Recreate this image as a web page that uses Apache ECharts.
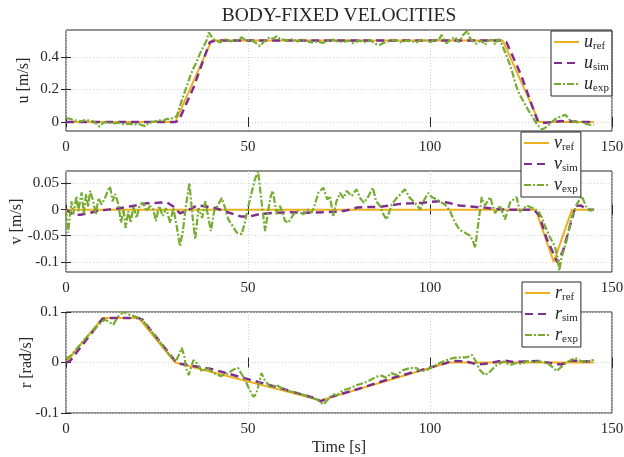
<!DOCTYPE html>
<html>
<head>
<meta charset="utf-8">
<script src="https://cdn.jsdelivr.net/npm/echarts@6/dist/echarts.min.js"></script>
<style>
  html, body { margin: 0; padding: 0; background: #fff; }
  #chart { width: 624px; height: 457px; }
</style>
</head>
<body>
<div id="chart"></div>
<script>
// ---- surge velocity u [m/s] ----
const uRefT = [0, 30, 40, 120, 130, 145];
const uRefV = [0, 0, 0.5, 0.5, 0, 0];
const uSimT = [0, 10, 20, 30, 31, 35, 39.5, 41, 50, 60, 70, 80, 90, 100, 110, 120, 121, 125, 129.5, 131, 133, 136, 139, 142, 145];
const uSimV = [0, 0, 0, 0, 0.01, 0.21, 0.49, 0.5, 0.5, 0.5, 0.5, 0.5, 0.5, 0.5, 0.5, 0.5, 0.49, 0.29, 0.01, -0.006, -0.002, 0.006, 0.004, 0.001, 0];
const uExpT = [0, 1, 2, 3, 3.8, 5, 5.7, 6.5, 7.5, 8.3, 9.2, 10, 10.7, 12, 13, 14.5, 15.8, 17, 18.5, 20, 21.7, 22.5, 23.5, 24.5, 25.8, 26.8, 27.7, 28.5, 29.5, 30.4, 31.2, 32.2, 33.2, 34.1, 35, 35.9, 36.8, 37.7, 38.6, 39.2, 39.8, 40.5, 41.3, 42.3, 43.2, 44.2, 45, 46, 47, 48.3, 49.4, 50.5, 51.5, 52.5, 53.3, 54.2, 55, 56, 57, 57.9, 58.8, 59.7, 61, 62.4, 63.5, 65, 66.1, 67, 67.9, 69, 70.6, 72, 73.3, 74.5, 76.1, 77.5, 78.8, 80, 80.6, 82, 83.5, 85, 86.3, 87.2, 88.1, 89.5, 90.8, 92, 93.6, 95, 96.3, 97.5, 99.1, 100.2, 101.4, 102.3, 103.2, 104, 104.6, 105.3, 106, 107, 107.8, 108.5, 109.1, 110.3, 110.9, 111.5, 112.2, 112.8, 113.8, 114.5, 115.1, 116, 116.5, 117.2, 117.9, 118.8, 119.7, 120.6, 121.3, 122, 122.7, 123.3, 124, 124.7, 125.6, 126.5, 127.2, 127.9, 128.6, 129.3, 130, 130.7, 131.3, 132, 132.7, 133.4, 134.1, 134.8, 135.5, 136.2, 137.1, 137.8, 138.5, 139.4, 140.3, 141.2, 142.1, 142.8, 143.5, 144.4, 145];
const uExpV = [0.025, 0.02, 0.012, 0.008, 0.003, 0.01, 0.014, 0.006, 0.005, -0.01, -0.028, -0.01, 0, -0.005, -0.009, -0.004, -0.014, -0.01, -0.015, -0.012, -0.025, -0.01, 0, 0.005, 0.01, 0.008, 0.02, 0.015, 0.028, 0.035, 0.09, 0.16, 0.22, 0.28, 0.33, 0.37, 0.42, 0.46, 0.5, 0.55, 0.53, 0.51, 0.5, 0.488, 0.5, 0.512, 0.495, 0.5, 0.505, 0.52, 0.5, 0.506, 0.495, 0.48, 0.465, 0.49, 0.505, 0.52, 0.51, 0.528, 0.51, 0.506, 0.5, 0.51, 0.495, 0.505, 0.5, 0.49, 0.488, 0.495, 0.485, 0.5, 0.506, 0.495, 0.49, 0.5, 0.485, 0.495, 0.5, 0.49, 0.505, 0.48, 0.474, 0.485, 0.49, 0.505, 0.5, 0.49, 0.5, 0.495, 0.49, 0.505, 0.5, 0.49, 0.51, 0.5, 0.535, 0.5, 0.484, 0.5, 0.51, 0.52, 0.49, 0.51, 0.535, 0.56, 0.52, 0.5, 0.49, 0.48, 0.5, 0.49, 0.474, 0.5, 0.49, 0.505, 0.477, 0.51, 0.48, 0.43, 0.39, 0.35, 0.3, 0.25, 0.2, 0.165, 0.13, 0.093, 0.065, 0.042, 0.015, -0.01, -0.03, -0.045, -0.04, -0.03, -0.015, 0, 0.012, 0.025, 0.03, 0.037, 0.045, 0.03, 0.01, 0.005, -0.002, 0.003, -0.002, -0.01, -0.015, -0.018, -0.015];

// ---- sway velocity v [m/s] ----
const vRefT = [0, 129, 134, 139, 145];
const vRefV = [0, 0, -0.1, 0, 0];
const vSimT = [0, 2, 4, 6, 9, 11.5, 14, 16.7, 19, 22, 25, 27.7, 29.5, 31.3, 33, 36, 38.5, 41, 44, 48, 50.5, 53, 57, 61.5, 66, 70.6, 75, 78, 80, 83, 86, 89, 91.8, 95, 98, 100, 102.7, 105, 108, 111, 114.6, 118, 121, 125, 128.4, 130, 132, 135, 136.5, 138.5, 140, 141.5, 143, 145];
const vSimV = [0, -0.009, -0.01, -0.007, -0.002, 0, 0.002, 0.005, 0.008, 0.012, 0.013, 0.014, 0.006, -0.007, -0.003, 0.008, 0.006, 0.003, -0.004, -0.013, -0.013, -0.009, -0.006, -0.005, -0.006, -0.005, -0.004, 0, 0.004, 0.005, 0.005, 0.008, 0.011, 0.012, 0.013, 0.015, 0.016, 0.013, 0.008, 0.006, 0.004, 0.001, 0, 0, 0, -0.01, -0.055, -0.101, -0.08, -0.03, 0.007, 0.008, 0, 0];
const vExpT = [0, 0.6, 1.5, 2, 2.9, 3.4, 4.3, 4.9, 5.5, 6.1, 6.6, 7.5, 8.2, 8.9, 9.8, 10.7, 11.6, 12.1, 12.8, 13.5, 14.4, 15.1, 15.8, 16.4, 17.1, 17.8, 18.5, 19.4, 20.3, 21.2, 22.1, 23.1, 24, 24.7, 25.6, 26.6, 27.5, 28.6, 29.5, 30.4, 31.3, 32.1, 33, 33.9, 34.8, 35.5, 36.4, 37.4, 38.3, 39.2, 39.8, 40.7, 41.6, 42.8, 43.7, 44.6, 45.5, 46.9, 48.3, 49.2, 50.6, 52, 52.8, 53.8, 54.7, 56.1, 56.8, 57.9, 58.8, 60.2, 61.1, 62.5, 63.8, 65.2, 66.6, 67.5, 68.4, 69.3, 70.7, 71.8, 72.5, 73.4, 74.3, 75.3, 76.2, 77.1, 78.5, 79.8, 80.8, 81.9, 83.1, 84.3, 85.2, 86.3, 87.2, 88.1, 89.5, 90.8, 92.2, 93.1, 94.5, 95.9, 97.3, 98.2, 99.5, 100.5, 101.8, 103, 104.1, 105.5, 106.9, 107.8, 108.7, 109.8, 111, 111.8, 112.4, 113, 113.7, 114.2, 115.1, 116.5, 117.9, 119.2, 120.6, 122, 123.8, 124.7, 126.6, 128.4, 129.8, 130.7, 131.6, 133, 134.3, 135, 135.5, 136.2, 137.5, 138.9, 140.3, 141.7, 143, 144.1, 145];
const vExpV = [0, -0.044, 0.016, -0.009, 0.026, -0.003, 0.033, -0.009, 0.03, 0.005, 0.036, 0.016, -0.009, 0.022, 0.01, 0.022, 0.038, 0.044, 0.016, 0.03, 0.01, -0.025, 0, -0.035, -0.003, -0.025, 0.007, -0.016, 0.01, 0.013, -0.003, 0.007, 0, -0.022, 0.007, -0.012, 0.003, -0.025, 0.003, -0.031, -0.07, -0.041, 0.01, 0.051, -0.016, -0.057, 0.003, -0.016, 0.016, -0.019, -0.041, -0.003, 0.007, 0.022, 0.003, -0.019, -0.028, -0.044, -0.047, -0.022, 0.022, 0.06, 0.073, 0.01, -0.041, 0.022, 0.036, -0.009, 0.007, -0.022, -0.025, -0.009, -0.003, -0.009, 0, -0.006, 0.01, 0.032, 0.042, 0.019, 0.026, -0.012, 0.016, 0.032, 0.022, 0.036, 0.026, 0.039, 0.022, 0.013, 0.026, 0.042, 0.016, 0.007, -0.009, -0.019, 0.01, 0.022, 0.032, 0.039, 0.022, 0.013, 0, 0.016, 0.032, 0.024, 0.02, 0.014, 0.01, -0.003, -0.025, -0.035, -0.041, -0.045, -0.05, -0.06, -0.073, -0.041, -0.003, 0.024, 0.008, 0.024, -0.007, 0.008, -0.019, 0.014, 0.024, -0.004, 0.008, 0.002, -0.003, -0.015, -0.031, -0.054, -0.07, -0.09, -0.117, -0.09, -0.06, -0.015, 0.01, 0.026, 0.004, -0.002, 0];

// ---- yaw rate r [rad/s] ----
const rRefT = [0, 10, 20, 30, 70, 105, 145];
const rRefV = [0, 0.088, 0.088, 0, -0.075, 0, 0];
const rSimT = [0, 1, 10, 11, 20, 21, 30, 31, 35, 40, 50, 60, 68, 70, 72, 80, 90, 100, 104, 106, 110, 113, 116, 120, 123, 127, 130, 133, 136, 139, 142, 145];
const rSimV = [0, 0.002, 0.086, 0.088, 0.088, 0.085, 0.003, -0.002, -0.007, -0.013, -0.033, -0.053, -0.07, -0.077, -0.07, -0.053, -0.03, -0.01, -0.002, 0.003, 0.002, -0.004, -0.002, 0.004, 0.001, 0.002, 0.003, -0.001, -0.004, 0.004, 0.002, 0.003];
const rExpT = [0, 1.1, 3, 5, 7, 9, 10.7, 12.1, 13, 14.4, 15.8, 17.6, 19.4, 21.2, 23.1, 24.9, 26.7, 28.6, 30.2, 31, 31.8, 32.5, 33, 33.7, 35, 36, 37.4, 38.7, 40.6, 42.5, 44.3, 46, 47.3, 49.2, 50.5, 51.5, 52.3, 53.7, 54.6, 56, 57.9, 59.7, 61.5, 63.3, 65.2, 67, 68.9, 70.7, 72, 73.4, 74.4, 76.2, 78, 79.8, 81.7, 83.5, 85.3, 86.7, 88, 89.4, 90.8, 92.6, 94.5, 96.3, 97.7, 99.1, 100.9, 102.7, 104.6, 106.4, 108.3, 110.1, 111.5, 112.4, 113.7, 115.1, 116.5, 118.3, 120.2, 122, 123.8, 125.2, 126.6, 128.4, 130.2, 132.1, 133.9, 134.8, 136.2, 138, 139.9, 141.7, 143.5, 145];
const rExpV = [0.008, 0.012, 0.028, 0.045, 0.06, 0.075, 0.085, 0.079, 0.075, 0.092, 0.1, 0.094, 0.09, 0.082, 0.065, 0.049, 0.032, 0.013, 0.003, 0.015, 0.029, 0.012, -0.011, -0.025, 0.005, -0.002, -0.018, -0.011, -0.021, -0.027, -0.022, -0.014, -0.011, -0.035, -0.055, -0.068, -0.062, -0.021, -0.035, -0.048, -0.045, -0.053, -0.057, -0.06, -0.064, -0.069, -0.073, -0.083, -0.073, -0.063, -0.065, -0.055, -0.051, -0.045, -0.041, -0.035, -0.028, -0.026, -0.03, -0.021, -0.025, -0.015, -0.011, -0.011, -0.018, -0.015, -0.008, -0.001, 0.005, 0.009, 0.01, 0.01, 0.015, 0.005, -0.015, -0.025, -0.018, -0.005, 0.002, -0.005, -0.001, -0.003, 0.003, 0.001, 0.002, 0, -0.011, -0.017, -0.008, 0.002, 0.009, 0.002, 0.003, 0.005];

// ---- axis settings ----
const timeTicks = [0, 50, 100, 150];
const uTicks = [0, 0.2, 0.4];
const vTicks = [-0.1, -0.05, 0, 0.05];
const rTicks = [-0.1, 0, 0.1];

const FONT = "'Liberation Serif', 'DejaVu Serif', serif";
const INK = '#262626';
const C_REF = '#EDB120', C_SIM = '#7E2F8E', C_EXP = '#77AC30';

function zip(T, V) { return T.map((t, i) => [t, V[i]]); }

const panels = [
  { sym: 'u', unit: 'u [m/s]', top: 30, min: -0.055, max: 0.565, ticks: uTicks, nameGap: 34,
    legend: { left: 551, top: 31 },
    ref: zip(uRefT, uRefV), sim: zip(uSimT, uSimV), exp: zip(uExpT, uExpV) },
  { sym: 'v', unit: 'v [m/s]', top: 171, min: -0.1195, max: 0.074, ticks: vTicks, nameGap: 41,
    legend: { left: 521, top: 132 },
    ref: zip(vRefT, vRefV), sim: zip(vSimT, vSimV), exp: zip(vExpT, vExpV) },
  { sym: 'r', unit: 'r [rad/s]', top: 312, min: -0.1, max: 0.1, ticks: rTicks, nameGap: 31,
    legend: { left: 522, top: 282 },
    ref: zip(rRefT, rRefV), sim: zip(rSimT, rSimV), exp: zip(rExpT, rExpV) }
];

const grid = [], xAxis = [], yAxis = [], series = [], legend = [];
const dotted = { show: true, lineStyle: { color: '#d4d4d4', type: [1, 2], width: 1 } };
const tickIn = { show: true, inside: true, length: 5, lineStyle: { color: INK, width: 1 } };

panels.forEach((p, i) => {
  grid.push({ left: 66, width: 546, top: p.top, height: 101, show: true, outerBoundsMode: 'none',
              containLabel: false, borderColor: INK, borderWidth: 1, backgroundColor: '#fff' });
  // bottom axis with labels, top axis carrying only ticks
  xAxis.push({ type: 'value', gridIndex: i, min: 0, max: 150, interval: 50, position: 'bottom',
    axisLine: { show: false }, axisTick: tickIn, splitLine: dotted,
    axisLabel: { color: INK, fontFamily: FONT, fontSize: 15, margin: 9 },
    name: i === 2 ? 'Time [s]' : '', nameLocation: 'middle', nameGap: 27, nameMoveOverlap: false,
    nameTextStyle: { color: INK, fontFamily: FONT, fontSize: 16 } });
  xAxis.push({ type: 'value', gridIndex: i, min: 0, max: 150, interval: 50, position: 'top',
    axisLine: { show: false }, axisTick: tickIn, splitLine: { show: false }, axisLabel: { show: false } });
  yAxis.push({ type: 'value', gridIndex: i, min: p.min, max: p.max, position: 'left',
    axisLine: { show: false },
    axisTick: Object.assign({}, tickIn, { customValues: p.ticks }),
    splitLine: dotted,
    axisLabel: { customValues: p.ticks, color: INK, fontFamily: FONT, fontSize: 15, margin: 7 },
    name: p.unit, nameLocation: 'middle', nameGap: p.nameGap, nameRotate: 90, nameMoveOverlap: false,
    nameTextStyle: { color: INK, fontFamily: FONT, fontSize: 16 } });
  yAxis.push({ type: 'value', gridIndex: i, min: p.min, max: p.max, position: 'right',
    axisLine: { show: false },
    axisTick: Object.assign({}, tickIn, { customValues: p.ticks }),
    splitLine: { show: false }, axisLabel: { show: false } });

  const names = [p.sym + '_ref', p.sym + '_sim', p.sym + '_exp'];
  const base = { type: 'line', xAxisIndex: 2 * i, yAxisIndex: 2 * i, symbol: 'none', showSymbol: false };
  series.push(Object.assign({}, base, { name: names[0], data: p.ref,
    lineStyle: { color: C_REF, width: 2 }, itemStyle: { color: C_REF } }));
  series.push(Object.assign({}, base, { name: names[1], data: p.sim,
    lineStyle: { color: C_SIM, width: 2.5, type: [8, 5] }, itemStyle: { color: C_SIM } }));
  series.push(Object.assign({}, base, { name: names[2], data: p.exp,
    lineStyle: { color: C_EXP, width: 2.2, type: [7, 2, 2, 2] }, itemStyle: { color: C_EXP } }));

  legend.push({ data: names, orient: 'vertical', left: p.legend.left, top: p.legend.top,
    backgroundColor: '#fff', borderColor: INK, borderWidth: 1, borderRadius: 0,
    padding: [2, 3, 2, 2], itemGap: 2, itemWidth: 25, itemHeight: 14, itemTextGap: 1,
    selectedMode: false, z: 10,
    itemStyle: { opacity: 0, borderWidth: 0 },
    formatter: n => { const s = n.split('_'); return '{i|' + s[0] + '}{s|' + s[1] + '}'; },
    textStyle: { rich: {
      i: { fontFamily: FONT, fontStyle: 'italic', fontSize: 18, color: INK, lineHeight: 20 },
      s: { fontFamily: FONT, fontSize: 11, color: INK, lineHeight: 12, verticalAlign: 'bottom' }
    } } });
});

const chart = echarts.init(document.getElementById('chart'), null, { renderer: 'canvas' });
chart.setOption({
  animation: false,
  backgroundColor: '#fff',
  title: { text: 'BODY-FIXED VELOCITIES', left: 334, top: 1, textAlign: 'center',
    textStyle: { color: INK, fontFamily: FONT, fontSize: 19.5, fontWeight: 'normal' } },
  grid, xAxis, yAxis, series, legend
});
</script>
</body>
</html>
